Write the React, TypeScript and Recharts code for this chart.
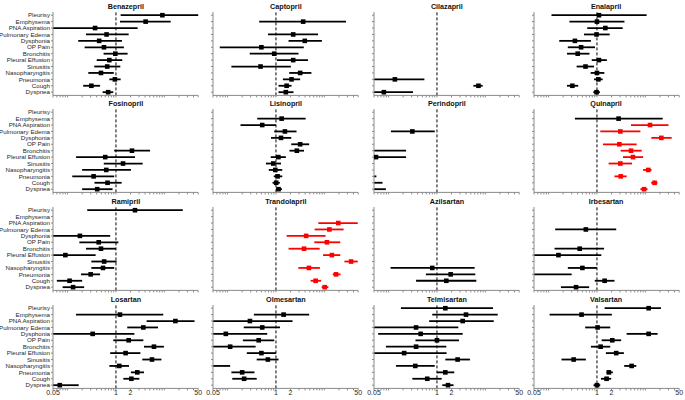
import React from 'react';
import { ScatterChart, Scatter, XAxis, YAxis, ErrorBar, ReferenceLine } from 'recharts';

// adverse event categories, top to bottom
const CATEGORIES = [
  'Pleurisy', 'Emphysema', 'PNA Aspiration', 'Pulmonary Edema', 'Dysphonia', 'OP Pain',
  'Bronchitis', 'Pleural Effusion', 'Sinusitis', 'Nasopharyngitis', 'Pneumonia', 'Cough', 'Dyspnea',
];

// x axis (log) ticks and which of them carry a label
const X_TICKS = [0.05, 0.06, 0.07, 0.08, 0.09, 0.1, 0.2, 0.3, 0.4, 0.5, 0.6, 0.7, 0.8, 0.9,
  1, 2, 3, 4, 5, 6, 7, 8, 9, 10, 20, 30, 40, 50];
const X_LABELS = [0.05, 1, 2, 50];
const XMIN = 0.05;
const XMAX = 50;

type Row = [number, number, number, number?] | null; // [estimate, lower, upper, highlighted]

const BENAZEPRIL: Row[] = [
  [9.1, 1.25, 60], [4.1, 1.21, 13.5], [0.37, 0.03, 2.8], [0.64, 0.24, 1.83], [0.45, 0.166, 1.33],
  [0.565, 0.225, 1.46], [0.97, 0.555, 1.74], [0.73, 0.4, 1.35], [0.66, 0.356, 1.23],
  [0.49, 0.268, 0.9], [0.95, 0.73, 1.25], [0.31, 0.21, 0.47], [0.69, 0.53, 0.88],
];
const CAPTOPRIL: Row[] = [
  null, [3.65, 0.45, 28], null, [2.27, 0.685, 7.4], [3.94, 1.82, 8.9], [0.5, 0.069, 3.76],
  [0.92, 0.287, 2.92], [2.27, 1.05, 4.6], [0.48, 0.12, 2.03], [3.16, 1.88, 5.4],
  [2.1, 1.39, 3.16], [1.66, 1.13, 2.1], [1.6, 1.13, 2.3],
];
const CILAZAPRIL: Row[] = [
  null, null, null, null, null, null, null, null, null, null,
  [0.135, 0.03, 0.55], [7.2, 5.65, 8.8], [0.08, 0.03, 0.32],
];
const ENALAPRIL: Row[] = [
  [1.1, 0.115, 10.6], [1.0, 0.27, 3.7], [1.49, 0.63, 3.4], [0.98, 0.54, 1.83], [0.35, 0.166, 0.75],
  [0.47, 0.25, 0.91], [0.4, 0.24, 0.7], [1.1, 0.78, 1.6], [0.58, 0.38, 0.87], [1.0, 0.74, 1.42],
  [1.07, 0.87, 1.31], [0.31, 0.24, 0.41], [0.98, 0.84, 1.15],
];
const FOSINOPRIL: Row[] = [
  null, null, null, null, null, null, [2.14, 0.92, 5.05], [0.6, 0.15, 2.47], [1.4, 0.56, 3.56],
  [0.63, 0.2, 2.04], [0.345, 0.125, 0.92], [0.67, 0.36, 1.31], [0.41, 0.2, 0.85],
];
const LISINOPRIL: Row[] = [
  null, [1.31, 0.41, 4.1], [0.52, 0.185, 1.0], [1.53, 0.92, 2.66], [1.27, 0.79, 2.07],
  [3.16, 2.07, 4.85], [2.7, 1.9, 3.8], [1.12, 0.78, 1.6], [0.88, 0.62, 1.27], [0.97, 0.71, 1.35],
  [1.08, 0.9, 1.35], [1.01, 0.85, 1.2], [1.13, 1.0, 1.33],
];
const PERINDOPRIL: Row[] = [
  null, null, null, [0.31, 0.112, 0.9], null, null, [0.02, 0.01, 0.23], [0.055, 0.01, 0.23],
  null, null, [0.02, 0.01, 0.056], [0.02, 0.01, 0.075], [0.02, 0.01, 0.088],
];
const QUINAPRIL: Row[] = [
  null, [2.8, 0.35, 22.8], [12.5, 5.05, 30, 1], [3.04, 1.17, 7.9, 1], [21.4, 13.3, 35, 1],
  [2.9, 1.33, 6.6, 1], [5.05, 3.09, 8.4, 1], [5.55, 3.45, 9.0, 1], [3.04, 1.74, 5.3, 1],
  [11.5, 9.0, 13.4, 1], [3.1, 2.3, 4.1, 1], [15.5, 13.2, 17.8, 1], [9.4, 7.9, 11.1, 1],
];
const RAMIPRIL: Row[] = [
  [2.47, 0.255, 24], null, null, null, [0.18, 0.03, 0.76], [0.44, 0.175, 1.12], [0.49, 0.24, 1.0],
  [0.09, 0.03, 0.38], [0.57, 0.31, 1.03], [0.54, 0.31, 0.92], [0.3, 0.19, 0.47],
  [0.11, 0.06, 0.2], [0.13, 0.079, 0.22],
];
const TRANDOLAPRIL: Row[] = [
  null, null, [19.4, 7.5, 49, 1], [12.7, 6.3, 25, 1], [4.2, 1.66, 10.6, 1], [11.3, 6.2, 21.3, 1],
  [3.8, 1.82, 8.0, 1], [14.3, 9.4, 21.3, 1], [35.7, 26, 49, 1], [4.8, 2.9, 8.1, 1],
  [17.4, 14.9, 21.6, 1], [6.6, 5.2, 8.6, 1], [10.2, 8.8, 12.1, 1],
];
const AZILSARTAN: Row[] = [
  null, null, null, null, null, null, null, null, null,
  [0.8, 0.11, 6.0], [1.92, 0.59, 6.2], [1.56, 0.37, 6.5], null,
];
const IRBESARTAN: Row[] = [
  null, null, null, [0.59, 0.137, 2.5], null, null, [0.44, 0.133, 1.4], [0.16, 0.03, 1.23],
  null, [0.5, 0.25, 1.0], [0.04, 0.03, 0.3], [1.44, 0.9, 2.3], [0.37, 0.18, 0.69],
];
const LOSARTAN: Row[] = [
  null, [1.21, 0.149, 9.5], [16.9, 4.3, 42], [3.68, 1.71, 7.4], [0.33, 0.03, 2.4],
  [1.83, 0.88, 3.68], [6.1, 3.8, 9.8], [1.58, 0.76, 3.2], [5.55, 3.5, 8.7], [1.17, 0.73, 1.86],
  [2.76, 2.04, 3.8], [2.08, 1.42, 3.04], [0.069, 0.03, 0.17],
];
const OLMESARTAN: Row[] = [
  null, [1.44, 0.35, 4.85], [0.29, 0.03, 2.2], [0.52, 0.216, 1.21], [0.092, 0.03, 0.66],
  [0.44, 0.207, 0.92], [0.113, 0.03, 0.38], [0.5, 0.25, 1.0], [0.68, 0.4, 1.13],
  [0.03, 0.01, 0.113], [0.2, 0.12, 0.36], [0.22, 0.125, 0.4], null,
];
const TELMISARTAN: Row[] = [
  [1.49, 0.18, 14.4], [3.98, 0.8, 18], [3.4, 0.69, 14.9], [0.37, 0.03, 2.76], [0.46, 0.061, 3.4],
  [1.0, 0.36, 2.85], [0.37, 0.088, 1.56], [0.21, 0.03, 1.58], [2.67, 1.49, 4.8],
  [0.356, 0.142, 0.9], [1.49, 1.0, 2.28], [0.63, 0.31, 1.25], [1.69, 1.29, 2.2],
];
const VALSARTAN: Row[] = [
  [11.7, 1.44, 21], [0.48, 0.105, 2.03], null, [1.03, 0.57, 1.88], [11.7, 4.1, 17.9],
  [2.07, 1.25, 3.16], [1.19, 0.75, 1.88], [2.5, 1.53, 3.6], [0.33, 0.185, 0.59],
  [5.2, 3.65, 6.5], [1.76, 1.58, 2.13], [1.58, 1.21, 1.97], [1.0, 0.85, 1.17],
];

const PANELS: [string, Row[]][] = [
  ['Benazepril', BENAZEPRIL], ['Captopril', CAPTOPRIL], ['Cilazapril', CILAZAPRIL], ['Enalapril', ENALAPRIL],
  ['Fosinopril', FOSINOPRIL], ['Lisinopril', LISINOPRIL], ['Perindopril', PERINDOPRIL], ['Quinapril', QUINAPRIL],
  ['Ramipril', RAMIPRIL], ['Trandolapril', TRANDOLAPRIL], ['Azilsartan', AZILSARTAN], ['Irbesartan', IRBESARTAN],
  ['Losartan', LOSARTAN], ['Olmesartan', OLMESARTAN], ['Telmisartan', TELMISARTAN], ['Valsartan', VALSARTAN],
];

// layout
const COL_X = [53.3, 213.3, 374.3, 533.5];
const ROW_Y = [11.8, 109.4, 207, 304.6];
const PLOT_W = 145.2;
const PLOT_H = 83.4;
const Y_W = 53;
const FONT = '"Liberation Sans", Arial, sans-serif';
const AXIS_COLOR = '#8a8a8a';
const TEXT_COLOR = '#262626';
const Y_TICKS = CATEGORIES.map((_, i) => i);

const toPoints = (rows: Row[]) =>
  rows.flatMap((r, i) => {
    if (!r) return [];
    const [est, lo, hi, flag] = r;
    const l = Math.max(lo, XMIN);
    const h = Math.min(hi, XMAX);
    return [{ x: est, y: i, err: [est - l, h - est], sig: flag === 1 }];
  });

const Square = (props: any) => {
  const { cx, cy, payload, fill } = props;
  if (payload.x < XMIN) return <g />;
  return <rect x={cx - 2.3} y={cy - 2.3} width={4.6} height={4.6} fill={fill} />;
};

// plain svg text, so recharts does not try to wrap the labels
const YTick = ({ x, y, payload, show }: any) =>
  show ? (
    <text x={x} y={y} dy="0.35em" textAnchor="end" fontSize={6.2} fill={TEXT_COLOR} fontFamily={FONT}>
      {CATEGORIES[payload.value]}
    </text>
  ) : (
    <g />
  );

const XTick = ({ x, y, payload, show }: any) =>
  show && X_LABELS.includes(payload.value) ? (
    <text x={x} y={y} dy="0.71em" textAnchor="middle" fontSize={7} fill={TEXT_COLOR} fontFamily={FONT}>
      {String(payload.value)}
    </text>
  ) : (
    <g />
  );

function Panel({ title, rows, col, row }: { title: string; rows: Row[]; col: number; row: number }) {
  const pts = toPoints(rows);
  const black = pts.filter((p) => !p.sig);
  const red = pts.filter((p) => p.sig);
  return (
    <div style={{ position: 'absolute', left: COL_X[col] - Y_W, top: ROW_Y[row] - 2 }}>
      <div
        style={{
          position: 'absolute', left: Y_W, top: -8, width: PLOT_W, lineHeight: '10px',
          textAlign: 'center', fontFamily: FONT, fontWeight: 'bold', fontSize: 7.2, color: '#111',
        }}
      >
        {title}
      </div>
      <ScatterChart width={Y_W + PLOT_W + 10} height={2 + PLOT_H + 12} margin={{ top: 2, right: 10, bottom: 0, left: 0 }}>
        <XAxis
          type="number"
          dataKey="x"
          scale="log"
          domain={[XMIN, XMAX]}
          allowDataOverflow
          ticks={X_TICKS}
          interval={0}
          height={12}
          tickSize={2}
          tickMargin={0}
          stroke={AXIS_COLOR}
          tick={<XTick show={row === 3} />}
        />
        <YAxis
          type="number"
          dataKey="y"
          domain={[-0.5, 12.5]}
          reversed
          allowDataOverflow
          ticks={Y_TICKS}
          interval={0}
          width={Y_W}
          tickSize={2}
          tickMargin={1}
          stroke={AXIS_COLOR}
          tick={<YTick show={col === 0} />}
        />
        <ReferenceLine x={1} stroke="#000" strokeDasharray="3 2" strokeWidth={1} />
        <Scatter data={black} fill="#000" shape={Square} isAnimationActive={false}>
          <ErrorBar dataKey="err" direction="x" width={0} stroke="#000" strokeWidth={1.8} />
        </Scatter>
        <Scatter data={red} fill="#ff0000" shape={Square} isAnimationActive={false}>
          <ErrorBar dataKey="err" direction="x" width={0} stroke="#ff0000" strokeWidth={1.8} />
        </Scatter>
      </ScatterChart>
    </div>
  );
}

export default function App() {
  return (
    <div style={{ position: 'absolute', left: 0, top: 0, width: 685, height: 400, background: '#fff', overflow: 'hidden' }}>
      {PANELS.map(([title, rows], i) => (
        <Panel key={title} title={title} rows={rows} col={i % 4} row={Math.floor(i / 4)} />
      ))}
    </div>
  );
}
